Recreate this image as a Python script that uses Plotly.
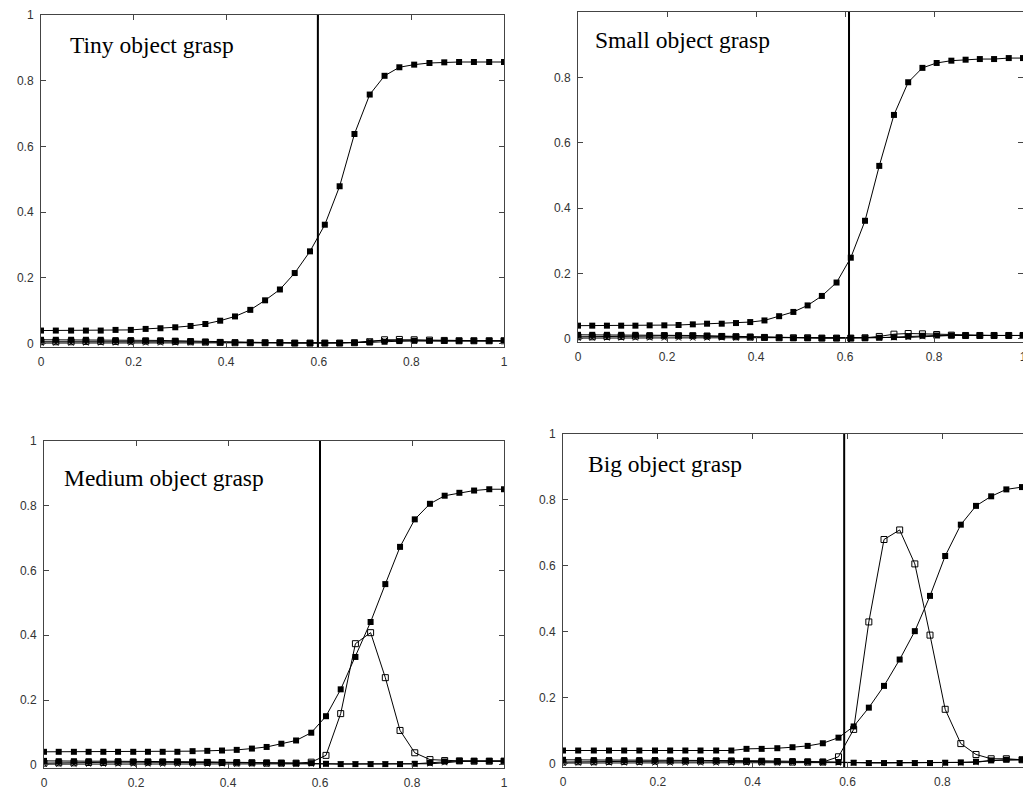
import plotly.graph_objects as go

# the page body has an 8px margin; figure is sized so it fills the 1031x791 window
OFF = 8
W, H = 1031 - OFF, 791 - OFF

# shared sample positions along the normalized time axis
X = [0.0, 0.032, 0.065, 0.097, 0.129, 0.161, 0.194, 0.226, 0.258, 0.29, 0.323,
     0.355, 0.387, 0.419, 0.452, 0.484, 0.516, 0.548, 0.581, 0.613, 0.645, 0.677,
     0.71, 0.742, 0.774, 0.806, 0.839, 0.871, 0.903, 0.935, 0.968, 1.0]

titles = ["Tiny object grasp", "Small object grasp", "Medium object grasp", "Big object grasp"]
thresholds = [0.598, 0.609, 0.6, 0.593]
tick_vals = [0, 0.2, 0.4, 0.6, 0.8, 1]
tick_text = ["0", "0.2", "0.4", "0.6", "0.8", "1"]

main_tiny = [0.04, 0.04, 0.04, 0.04, 0.04, 0.042, 0.042, 0.045, 0.047, 0.05, 0.054,
             0.06, 0.07, 0.083, 0.103, 0.132, 0.165, 0.215, 0.281, 0.362, 0.479, 0.638,
             0.758, 0.815, 0.841, 0.849, 0.854, 0.856, 0.857, 0.857, 0.857, 0.857]
main_small = [0.04, 0.04, 0.04, 0.04, 0.04, 0.041, 0.041, 0.042, 0.044, 0.046, 0.046,
              0.048, 0.051, 0.056, 0.069, 0.082, 0.102, 0.131, 0.172, 0.248, 0.361, 0.529,
              0.685, 0.785, 0.829, 0.844, 0.851, 0.854, 0.856, 0.856, 0.859, 0.859]
main_medium = [0.04, 0.04, 0.04, 0.04, 0.04, 0.04, 0.04, 0.04, 0.04, 0.04, 0.042,
               0.043, 0.044, 0.046, 0.05, 0.055, 0.065, 0.075, 0.099, 0.15, 0.233, 0.333,
               0.441, 0.558, 0.673, 0.758, 0.806, 0.831, 0.84, 0.847, 0.851, 0.851]
main_big = [0.04, 0.04, 0.04, 0.04, 0.04, 0.04, 0.04, 0.04, 0.04, 0.04, 0.04,
            0.04, 0.045, 0.045, 0.047, 0.05, 0.054, 0.062, 0.079, 0.113, 0.17, 0.236,
            0.316, 0.402, 0.509, 0.63, 0.725, 0.782, 0.811, 0.832, 0.839, 0.84]

low_tiny = [0.012, 0.012, 0.012, 0.012, 0.012, 0.011, 0.011, 0.01, 0.01, 0.009, 0.008,
            0.006, 0.005, 0.004, 0.003, 0.003, 0.003, 0.002, 0.002, 0.002, 0.002, 0.003,
            0.004, 0.006, 0.008, 0.009, 0.009, 0.009, 0.009, 0.009, 0.009, 0.009]
low_small = [0.012, 0.012, 0.012, 0.012, 0.012, 0.011, 0.011, 0.01, 0.01, 0.009, 0.008,
             0.007, 0.006, 0.005, 0.003, 0.002, 0.002, 0.002, 0.002, 0.002, 0.002, 0.003,
             0.005, 0.007, 0.009, 0.01, 0.01, 0.01, 0.01, 0.01, 0.01, 0.01]
low_medium = [0.012, 0.011, 0.011, 0.011, 0.011, 0.011, 0.01, 0.01, 0.01, 0.01, 0.009,
              0.009, 0.008, 0.008, 0.007, 0.007, 0.006, 0.005, 0.005, 0.003, 0.002, 0.002,
              0.002, 0.002, 0.002, 0.003, 0.006, 0.01, 0.012, 0.012, 0.012, 0.012]
low_big = [0.012, 0.011, 0.011, 0.011, 0.011, 0.011, 0.011, 0.01, 0.01, 0.01, 0.01,
           0.01, 0.009, 0.009, 0.008, 0.008, 0.007, 0.006, 0.005, 0.003, 0.002, 0.002,
           0.002, 0.002, 0.002, 0.003, 0.004, 0.006, 0.01, 0.012, 0.012, 0.012]

open_tiny = [0.006, 0.006, 0.006, 0.007, 0.007, 0.007, 0.008, 0.008, 0.008, 0.007, 0.006,
             0.005, 0.004, 0.003, 0.003, 0.003, 0.003, 0.002, 0.002, 0.002, 0.002, 0.003,
             0.006, 0.012, 0.013, 0.012, 0.011, 0.01, 0.009, 0.009, 0.009, 0.009]
open_small = [0.006, 0.006, 0.007, 0.007, 0.008, 0.008, 0.009, 0.009, 0.009, 0.008, 0.007,
              0.006, 0.005, 0.004, 0.003, 0.003, 0.003, 0.002, 0.002, 0.002, 0.003, 0.007,
              0.014, 0.016, 0.015, 0.013, 0.011, 0.01, 0.01, 0.01, 0.01, 0.01]
open_medium = [0.005, 0.006, 0.006, 0.007, 0.007, 0.008, 0.008, 0.008, 0.008, 0.008, 0.008,
               0.007, 0.007, 0.006, 0.006, 0.005, 0.005, 0.005, 0.008, 0.029, 0.158, 0.374,
               0.408, 0.269, 0.106, 0.037, 0.016, 0.013, 0.012, 0.011, 0.011, 0.011]
open_big = [0.005, 0.006, 0.006, 0.007, 0.007, 0.007, 0.008, 0.008, 0.008, 0.008, 0.008,
            0.007, 0.007, 0.006, 0.006, 0.005, 0.005, 0.005, 0.021, 0.104, 0.43, 0.68,
            0.709, 0.606, 0.39, 0.165, 0.061, 0.028, 0.015, 0.015, 0.012, 0.01]

cross_tiny = [0.002, 0.002, 0.002, 0.002, 0.002, 0.002, 0.002, 0.002, 0.002, 0.002, 0.002,
              0.002, 0.002, 0.002, 0.002, 0.002, 0.002, 0.002, 0.002, 0.002, 0.002, 0.003,
              0.008, 0.01, 0.009, 0.008, 0.008, 0.008, 0.008, 0.008, 0.008, 0.008]
cross_small = [0.002, 0.002, 0.002, 0.002, 0.002, 0.002, 0.002, 0.002, 0.002, 0.002, 0.002,
               0.002, 0.002, 0.002, 0.002, 0.002, 0.002, 0.002, 0.002, 0.002, 0.002, 0.002,
               0.003, 0.004, 0.006, 0.009, 0.01, 0.01, 0.01, 0.01, 0.01, 0.01]
cross_medium = [0.002, 0.002, 0.002, 0.002, 0.002, 0.002, 0.002, 0.002, 0.002, 0.002, 0.002,
                0.002, 0.002, 0.002, 0.002, 0.002, 0.002, 0.002, 0.002, 0.002, 0.002, 0.002,
                0.002, 0.002, 0.002, 0.002, 0.003, 0.006, 0.01, 0.011, 0.011, 0.011]
cross_big = [0.002, 0.002, 0.002, 0.002, 0.002, 0.002, 0.002, 0.002, 0.002, 0.002, 0.002,
             0.002, 0.002, 0.002, 0.002, 0.002, 0.002, 0.002, 0.002, 0.002, 0.002, 0.002,
             0.002, 0.002, 0.002, 0.002, 0.002, 0.004, 0.01, 0.012, 0.012, 0.012]

mains = [main_tiny, main_small, main_medium, main_big]
lows = [low_tiny, low_small, low_medium, low_big]
opens = [open_tiny, open_small, open_medium, open_big]
crosses = [cross_tiny, cross_small, cross_medium, cross_big]

# panel plot-area boxes in window pixels: left, right, top(y=1), bottom(border)
boxes = [(41, 504, 15, 347), (578, 1023, 12, 342), (44, 504, 441, 768), (563, 1031, 434, 767)]
xmax = [1.0, 1.0, 1.0, 0.987]
YMIN = -0.01
title_pos = [(68, 45), (593, 40), (62, 478), (586, 464)]

fig = go.Figure()
for i in range(4):
    L, R, T, B = [v - OFF for v in boxes[i]]
    xa = "x" if i == 0 else f"x{i+1}"
    ya = "y" if i == 0 else f"y{i+1}"
    line = dict(color="black", width=1)
    fig.add_trace(go.Scatter(x=X, y=crosses[i], mode="lines+markers", xaxis=xa, yaxis=ya,
                             line=line, marker=dict(symbol="x-thin", size=5,
                                                    line=dict(color="black", width=1)),
                             showlegend=False))
    fig.add_trace(go.Scatter(x=X, y=lows[i], mode="lines+markers", xaxis=xa, yaxis=ya,
                             line=line, marker=dict(symbol="square", size=6, color="black"),
                             showlegend=False))
    fig.add_trace(go.Scatter(x=X, y=opens[i], mode="lines+markers", xaxis=xa, yaxis=ya,
                             line=line, marker=dict(symbol="square-open", size=6, color="black",
                                                    line=dict(width=1)),
                             showlegend=False))
    fig.add_trace(go.Scatter(x=X, y=mains[i], mode="lines+markers", xaxis=xa, yaxis=ya,
                             line=line, marker=dict(symbol="square", size=6, color="black"),
                             showlegend=False))
    fig.add_shape(type="line", xref=xa, yref=f"{ya} domain", x0=thresholds[i], x1=thresholds[i],
                  y0=0, y1=1, line=dict(color="black", width=2))
    tx, ty = title_pos[i]
    fig.add_annotation(text=titles[i], xref="paper", yref="paper",
                       x=(tx - OFF) / W, y=1 - (ty - OFF) / H, xanchor="left", yanchor="middle",
                       showarrow=False,
                       font=dict(family="Liberation Serif", size=23.5, color="black"))

    axis_common = dict(showgrid=False, zeroline=False, showline=True, linecolor="#444",
                       linewidth=1, mirror="ticks", ticks="inside", ticklen=5,
                       tickcolor="#444", automargin=False,
                       tickfont=dict(family="Liberation Sans", size=12, color="#333"),
                       tickvals=tick_vals, ticktext=tick_text)
    xd = [L / W, min(R / W, 1.0)]
    yd = [1 - B / H, 1 - T / H]
    xkey = "xaxis" if i == 0 else f"xaxis{i+1}"
    ykey = "yaxis" if i == 0 else f"yaxis{i+1}"
    fig.update_layout(**{
        xkey: dict(domain=xd, range=[0, xmax[i]], anchor=ya, ticklabelstandoff=4, **axis_common),
        ykey: dict(domain=yd, range=[YMIN, 1], anchor=xa, ticklabelstandoff=4, **axis_common),
    })

fig.update_layout(width=W, height=H, margin=dict(l=0, r=0, t=0, b=0),
                  paper_bgcolor="white", plot_bgcolor="white")
fig.write_html("out.html")
